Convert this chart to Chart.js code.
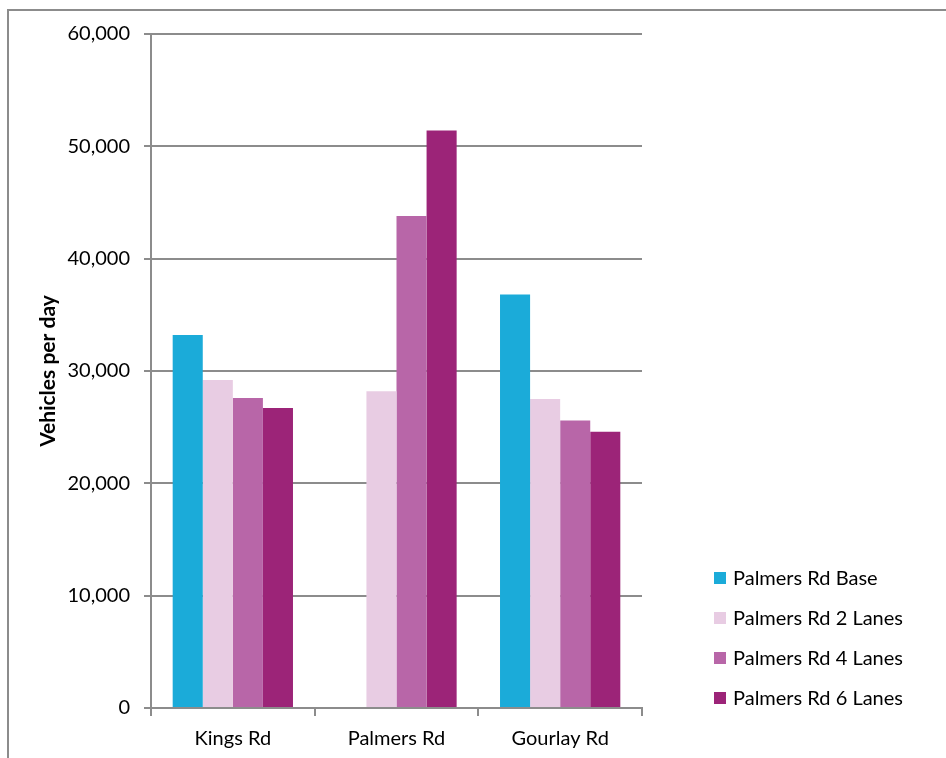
<!DOCTYPE html>
<html>
<head>
<meta charset="utf-8">
<script src="https://cdn.jsdelivr.net/npm/chart.js@4"></script>
<style>
    html, body { margin: 0; padding: 0; background: #fff; }
    #wrap { position: relative; width: 946px; height: 758px; }
    #frame {
        position: absolute; left: 7px; top: 9px; right: 0; bottom: -2px;
        border-top: 2px solid #8c8c8c; border-left: 2px solid #8c8c8c;
        pointer-events: none;
    }
    canvas { position: absolute; left: 0; top: 0; }
</style>
</head>
<body>
<div id="wrap">
    <canvas id="trafficChart" width="946" height="758"></canvas>
    <div id="frame"></div>
</div>
<script>
// Daily traffic volumes on each road under the Palmers Rd options
const roads = ["Kings Rd", "Palmers Rd", "Gourlay Rd"];
const seriesNames = ["Palmers Rd Base", "Palmers Rd 2 Lanes", "Palmers Rd 4 Lanes", "Palmers Rd 6 Lanes"];
const baseVolumes = [33200, null, 36800];
const twoLaneVolumes = [29200, 28200, 27500];
const fourLaneVolumes = [27600, 43800, 25600];
const sixLaneVolumes = [26700, 51400, 24600];
const seriesColors = ["#1babd9", "#e8cce3", "#b866a8", "#9c2478"];

const FONT = "Lato, 'Open Sans', sans-serif";
const AXIS_GREY = "#8c8c8c";

// Legend drawn beside the plot, lower right
const sideLegend = {
    id: "sideLegend",
    afterDraw(chart) {
        const ctx = chart.ctx;
        ctx.save();
        ctx.font = "20px " + FONT;
        ctx.textBaseline = "middle";
        chart.data.datasets.forEach((ds, i) => {
            const y = 578 + i * 40;
            ctx.fillStyle = ds.backgroundColor;
            ctx.fillRect(714, y - 6, 12, 12);
            ctx.fillStyle = "#000";
            ctx.fillText(ds.label, 733, y + 1);
        });
        ctx.restore();
    }
};

const datasets = [baseVolumes, twoLaneVolumes, fourLaneVolumes, sixLaneVolumes].map((vals, i) => ({
    label: seriesNames[i],
    data: vals,
    backgroundColor: seriesColors[i],
    borderWidth: 0,
    categoryPercentage: 0.735,
    barPercentage: 1.0
}));

new Chart(document.getElementById("trafficChart"), {
    type: "bar",
    data: { labels: roads, datasets: datasets },
    options: {
        responsive: false,
        animation: false,
        layout: { padding: { left: 30, top: 34, right: 304, bottom: 0 } },
        plugins: {
            legend: { display: false },
            tooltip: { enabled: false }
        },
        scales: {
            x: {
                afterFit: scale => { scale.height = 50; },
                grid: {
                    offset: true,
                    drawOnChartArea: false,
                    drawTicks: true,
                    tickLength: 8,
                    color: AXIS_GREY,
                    lineWidth: 2
                },
                border: { display: true, color: AXIS_GREY, width: 2 },
                ticks: {
                    color: "#000",
                    padding: 11,
                    font: { family: FONT, size: 20 }
                }
            },
            y: {
                min: 0,
                max: 60000,
                afterFit: scale => { scale.width = 121; },
                grid: {
                    color: AXIS_GREY,
                    lineWidth: 2,
                    tickLength: 7
                },
                border: { display: true, color: AXIS_GREY, width: 2 },
                ticks: {
                    stepSize: 10000,
                    color: "#000",
                    padding: 14,
                    font: { family: FONT, size: 20 },
                    callback: value => value.toLocaleString("en-US")
                },
                title: {
                    display: true,
                    text: "Vehicles per day",
                    color: "#000",
                    padding: { top: 6, bottom: 0 },
                    font: { family: FONT, size: 21, weight: "bold" }
                }
            }
        }
    },
    plugins: [sideLegend]
});
</script>
</body>
</html>
